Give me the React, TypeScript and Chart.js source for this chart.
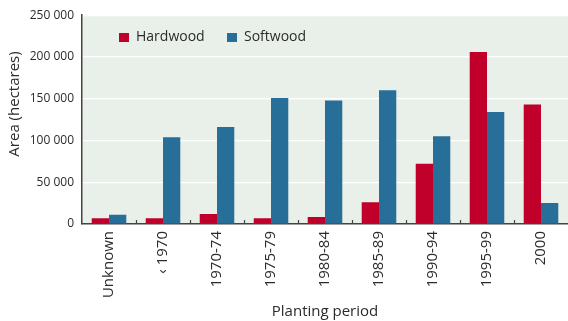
import React, { useEffect, useRef } from "react";
import { Chart, registerables } from "chart.js";
Chart.register(...registerables);

const categories = ["Unknown", "‹ 1970", "1970-74", "1975-79", "1980-84", "1985-89", "1990-94", "1995-99", "2000"];
const hardwood = [7000, 7000, 12000, 7000, 8500, 26000, 72000, 206000, 143000];
const softwood = [11000, 104000, 116000, 151000, 148000, 160000, 105000, 134000, 25000];
const seriesNames = ["Hardwood", "Softwood"];
const yMax = 250000;
const yStep = 50000;
const xTitle = "Planting period";
const yTitle = "Area (hectares)";

const RED = "#c0002a";
const BLUE = "#276e99";
const BG = "#e9f0e9";
const TEXT = "#2b2b2b";
const FONT = "'Open Sans', 'Noto Sans', sans-serif";

const fmt = (v: number) => String(v).replace(/\B(?=(\d{3})+(?!\d))/g, " ");

const decor = {
  id: "decor",
  beforeDraw(chart: any) {
    const { ctx, chartArea: a } = chart;
    ctx.save();
    ctx.fillStyle = BG;
    ctx.fillRect(a.left, a.top, a.right - a.left, a.bottom - a.top);
    ctx.restore();
  },
  afterDraw(chart: any) {
    const { ctx, chartArea: a } = chart;
    const x = chart.scales.x;
    ctx.save();
    // inner tick marks at category boundaries
    ctx.strokeStyle = "#444";
    ctx.lineWidth = 1.2;
    const n = categories.length;
    for (let i = 1; i < n; i++) {
      const px = (x.getPixelForValue(i - 1) + x.getPixelForValue(i)) / 2;
      ctx.beginPath();
      ctx.moveTo(Math.round(px) + 0.5, a.bottom);
      ctx.lineTo(Math.round(px) + 0.5, a.bottom - 4);
      ctx.stroke();
    }
    // legend
    ctx.font = `14px ${FONT}`;
    ctx.textBaseline = "middle";
    ctx.textAlign = "left";
    const items = [
      { label: seriesNames[0], color: RED, x: 119 },
      { label: seriesNames[1], color: BLUE, x: 227 },
    ];
    for (const it of items) {
      ctx.fillStyle = it.color;
      ctx.fillRect(it.x, 33, 10, 9);
      ctx.fillStyle = TEXT;
      ctx.fillText(it.label, it.x + 17, 37.5);
    }
    // axis titles
    ctx.font = `15px ${FONT}`;
    ctx.fillStyle = TEXT;
    ctx.textAlign = "center";
    ctx.fillText(xTitle, (a.left + a.right) / 2, 312);
    ctx.translate(14.5, 104);
    ctx.rotate(-Math.PI / 2);
    ctx.fillText(yTitle, 0, 0);
    ctx.restore();
  },
};

export default function App() {
  const ref = useRef<HTMLCanvasElement>(null);
  useEffect(() => {
    const chart = new Chart(ref.current!, {
      type: "bar",
      data: {
        labels: categories,
        datasets: [
          { label: seriesNames[0], data: hardwood, backgroundColor: RED, categoryPercentage: 0.64, barPercentage: 1.0 },
          { label: seriesNames[1], data: softwood, backgroundColor: BLUE, categoryPercentage: 0.64, barPercentage: 1.0 },
        ],
      },
      options: {
        responsive: false,
        animation: false,
        layout: { padding: { top: 11, right: 0, left: 0, bottom: 0 } },
        plugins: { legend: { display: false }, tooltip: { enabled: false } },
        scales: {
          x: {
            grid: { display: false, drawTicks: false },
            border: { display: true, color: "#444", width: 1.5 },
            ticks: {
              autoSkip: false,
              maxRotation: 90,
              minRotation: 90,
              padding: 7,
              color: TEXT,
              font: { family: FONT, size: 15 },
            },
            afterFit(s: any) {
              s.height = 97;
            },
          },
          y: {
            min: 0,
            max: yMax,
            ticks: {
              stepSize: yStep,
              padding: 8,
              color: TEXT,
              font: { family: FONT, size: 12 },
              callback: (v: any) => fmt(Number(v)),
            },
            grid: { color: "#ffffff", lineWidth: 1.2, drawTicks: false, tickLength: 0 },
            border: { display: true, color: "#444", width: 1.5 },
            afterFit(s: any) {
              s.width = 82;
            },
          },
        },
      },
      plugins: [decor],
    });
    return () => chart.destroy();
  }, []);
  return (
    <div style={{ position: "fixed", left: 0, top: 0, width: 568, height: 321, background: "#fff" }}>
      <canvas ref={ref} width={568} height={321} />
    </div>
  );
}
